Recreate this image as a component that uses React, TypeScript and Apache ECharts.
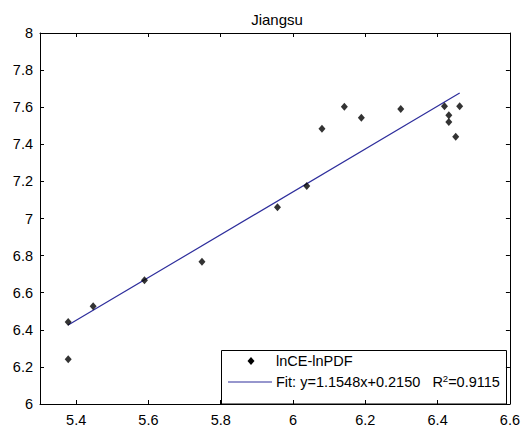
import React, { useEffect, useRef } from "react";
import * as echarts from "echarts";

const titleText = "Jiangsu";
const seriesName = "lnCE-lnPDF";
const xValues = [5.378, 5.378, 5.447, 5.589, 5.748, 5.957, 6.038, 6.080, 6.142, 6.189, 6.298, 6.419, 6.431, 6.431, 6.450, 6.461];
const yValues = [6.241, 6.442, 6.527, 6.667, 6.767, 7.060, 7.175, 7.484, 7.603, 7.543, 7.590, 7.605, 7.556, 7.520, 7.441, 7.605];
const fitSlope = 1.1548;
const fitIntercept = 0.215;
const xTicks = [5.4, 5.6, 5.8, 6.0, 6.2, 6.4, 6.6];
const fitLabel = "Fit: y=1.1548x+0.2150   R{sup|2}=0.9115";

export default function App() {
  const ref = useRef<HTMLDivElement>(null);
  useEffect(() => {
    if (!ref.current) return;
    const chart = echarts.init(ref.current, null, { renderer: "svg" });
    const pts = xValues.map((x, i) => [x, yValues[i]]);
    const xmin = Math.min(...xValues);
    const xmax = Math.max(...xValues);
    const fitLine = [
      [xmin, fitSlope * xmin + fitIntercept],
      [xmax, fitSlope * xmax + fitIntercept],
    ];
    const font = "'Liberation Sans', Arial, sans-serif";
    const axisLine = { show: true, lineStyle: { color: "#000", width: 1 } };
    const tick = { show: true, inside: true, length: 4, lineStyle: { color: "#000" } };
    chart.setOption({
      animation: false,
      backgroundColor: "#fff",
      title: {
        text: titleText,
        left: 272,
        top: 7,
        textAlign: "center",
        textStyle: { fontFamily: font, fontSize: 15, fontWeight: "normal", color: "#000" },
      },
      grid: { left: 40, top: 33, width: 472, height: 371, containLabel: false },
      xAxis: [
        {
          type: "value",
          min: 5.3,
          max: 6.6,
          axisLine,
          axisTick: { ...tick, customValues: xTicks },
          axisLabel: {
            customValues: xTicks,
            fontFamily: font,
            fontSize: 14.5,
            color: "#000",
            margin: 8,
            formatter: (v: number) => String(Math.round(v * 10) / 10),
          },
          splitLine: { show: false },
        },
        {
          type: "value",
          position: "top",
          min: 5.3,
          max: 6.6,
          axisLine,
          axisTick: { ...tick, customValues: xTicks },
          axisLabel: { show: false },
          splitLine: { show: false },
        },
      ],
      yAxis: [
        {
          type: "value",
          min: 6,
          max: 8,
          interval: 0.2,
          axisLine,
          axisTick: tick,
          axisLabel: { fontFamily: font, fontSize: 14.5, color: "#000", margin: 7 },
          splitLine: { show: false },
        },
        {
          type: "value",
          position: "right",
          min: 6,
          max: 8,
          interval: 0.2,
          axisLine,
          axisTick: tick,
          axisLabel: { show: false },
          splitLine: { show: false },
        },
      ],
      series: [
        {
          name: "fit",
          type: "line",
          data: fitLine,
          showSymbol: false,
          symbol: "none",
          lineStyle: { color: "#2e2e9c", width: 1.2 },
          z: 2,
        },
        {
          name: seriesName,
          type: "scatter",
          data: pts,
          symbol: "diamond",
          symbolSize: [7, 8],
          itemStyle: { color: "#000" },
          z: 3,
        },
      ],
      graphic: [
        {
          type: "group",
          z: 100,
          children: [
            {
              type: "rect",
              shape: { x: 221.5, y: 350.5, width: 285, height: 53.5 },
              style: { fill: "#fff", stroke: "#000", lineWidth: 1 },
            },
            {
              type: "polygon",
              shape: { points: [[251, 357], [254.5, 361], [251, 365], [247.5, 361]] },
              style: { fill: "#000" },
            },
            {
              type: "text",
              x: 276,
              y: 361,
              style: { text: seriesName, font: `14.5px ${font}`, fill: "#000", textVerticalAlign: "middle" },
            },
            {
              type: "line",
              shape: { x1: 228, y1: 382, x2: 272, y2: 382 },
              style: { stroke: "#2e2e9c", lineWidth: 1.2 },
            },
            {
              type: "text",
              x: 276,
              y: 382,
              style: {
                text: fitLabel,
                fontFamily: font,
                fontSize: 14.5,
                fill: "#000",
                verticalAlign: "middle",
                rich: {
                  sup: { fontFamily: font, fontSize: 9.5, fill: "#000", verticalAlign: "top", padding: [0, 0, 8, 0] },
                },
              },
            },
          ],
        },
      ],
    });
    return () => chart.dispose();
  }, []);
  return <div ref={ref} style={{ position: "fixed", left: 0, top: 0, width: 523, height: 431 }} />;
}
